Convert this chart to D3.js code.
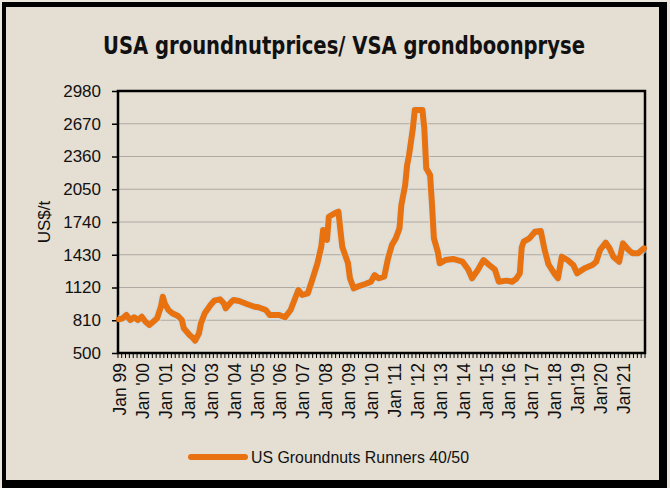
<!DOCTYPE html>
<html><head><meta charset="utf-8">
<script src="https://cdn.jsdelivr.net/npm/d3@7"></script>
<style>html,body{margin:0;padding:0;background:#fff}svg{display:block}</style>
</head><body>
<script>
// ---- data ----
const months = ["1999-01","1999-03","1999-05","1999-07","1999-09","1999-11","2000-01","2000-03","2000-05","2000-07","2000-09","2000-11","2000-12",
"2001-01","2001-03","2001-05","2001-08","2001-10","2001-11","2002-02","2002-04","2002-05","2002-07","2002-08","2002-10",
"2003-01","2003-03","2003-06","2003-08","2003-09","2003-12","2004-01","2004-04","2004-08","2004-12","2005-02","2005-06","2005-08",
"2006-01","2006-04","2006-07","2006-10","2006-11","2007-01","2007-04","2007-06","2007-09","2007-11","2007-12",
"2008-02","2008-03","2008-06","2008-08","2008-09","2008-10","2009-01","2009-02","2009-04","2009-06","2009-10",
"2010-01","2010-03","2010-05","2010-08","2010-10","2010-12","2011-02","2011-04","2011-05","2011-07","2011-08","2011-09","2011-11","2011-12",
"2012-04","2012-05","2012-06","2012-08","2012-09","2012-10","2012-12","2013-01","2013-04","2013-08","2014-01","2014-04","2014-06","2014-09","2014-12",
"2015-03","2015-06","2015-08","2015-12","2016-03","2016-05","2016-07","2016-08","2016-09","2016-12","2017-03","2017-06","2017-08","2017-10",
"2018-01","2018-03","2018-05","2018-08","2018-11","2019-01","2019-05","2019-09","2019-11","2020-01","2020-04","2020-06","2020-08","2020-11",
"2021-01","2021-04","2021-06","2021-09","2021-12"];
const values = [819,828,860,812,838,812,843,796,765,796,828,938,1033,
970,907,876,850,812,734,670,639,616,686,781,876,
954,995,1008,970,923,986,1002,992,964,938,933,907,860,
860,838,907,1049,1096,1049,1065,1175,1349,1506,1664,
1570,1790,1822,1838,1664,1506,1349,1207,1112,1128,1153,
1175,1238,1207,1222,1396,1522,1585,1680,1901,2090,2280,2374,2627,2800,
2800,2627,2248,2185,1901,1585,1459,1349,1380,1390,1364,1290,1207,1286,1380,
1333,1290,1175,1185,1175,1200,1254,1500,1554,1585,1648,1655,1475,1340,
1254,1207,1412,1380,1333,1254,1302,1333,1364,1475,1544,1491,1412,1364,
1538,1475,1444,1444,1491];
const yTicks = [500,810,1120,1430,1740,2050,2360,2670,2980];
const labelYears = [1999,2000,2001,2002,2003,2004,2005,2006,2007,2008,2009,2010,2011,2012,2013,2014,2015,2016,2017,2018,2019,2020,2021];
const xTickLabels = ["Jan 99","Jan '00","Jan '01","Jan '02","Jan '03","Jan '04","Jan '05","Jan '06","Jan '07","Jan '08","Jan '09","Jan '10","Jan '11","Jan '12","Jan '13","Jan '14","Jan '15","Jan '16","Jan '17","Jan '18","Jan'19","Jan'20","Jan'21"];
const title = "USA groundnutprices/ VSA grondboonpryse";
const yTitle = "US$/t";
const seriesName = "US Groundnuts Runners 40/50";

// ---- layout ----
const W = 670, H = 488;
const plot = {l:118, t:91, r:645, b:353};
const bg = "#e4ded3", orange = "#e8720f";

const svg = d3.select("body").append("svg").attr("width", W).attr("height", H);
svg.append("rect").attr("width", W).attr("height", H).attr("fill", "#ebe7df");
svg.append("rect").attr("x", 2).attr("y", 2).attr("width", 665).attr("height", 486).attr("fill", "#000");
svg.append("rect").attr("x", 6).attr("y", 7).attr("width", 653).attr("height", 473).attr("fill", bg);

const parse = d3.timeParse("%Y-%m-%d");
const data = months.map((m, i) => ({d: parse(m + "-15"), v: values[i]}));

const x = d3.scaleTime().domain([new Date(1999,0,1), new Date(2022,0,1)]).range([plot.l, plot.r]);
const y = d3.scaleLinear().domain([500, 2980]).range([plot.b, plot.t]);

// gridlines
svg.append("g").selectAll("line").data(yTicks.slice(1, -1)).join("line")
  .attr("x1", plot.l).attr("x2", plot.r).attr("y1", d => y(d)).attr("y2", d => y(d))
  .attr("stroke", "#aeaaa3").attr("stroke-width", 1);

// y axis
const yAxis = svg.append("g").attr("transform", `translate(${plot.l},0)`)
  .call(d3.axisLeft(y).tickValues(yTicks).tickSize(6).tickPadding(11).tickFormat(d3.format("d")));
yAxis.select(".domain").remove();
yAxis.selectAll("line").attr("stroke", "#000").attr("stroke-width", 1.5);
yAxis.selectAll("text").attr("font-family", "Liberation Sans, Arial, sans-serif").attr("font-size", 17).attr("fill", "#111");

// x axis: minor ticks every two months
const minor = d3.timeMonth.every(2).range(new Date(1999,0,1), new Date(2022,0,2));
svg.append("g").selectAll("line").data(minor).join("line")
  .attr("x1", d => x(d)).attr("x2", d => x(d)).attr("y1", plot.b).attr("y2", plot.b + 5)
  .attr("stroke", "#000").attr("stroke-width", 1);
svg.append("g").selectAll("text").data(labelYears).join("text")
  .attr("transform", (d) => `translate(${x(new Date(d,0,15)) + 1},${plot.b + 10}) rotate(-90)`)
  .attr("text-anchor", "end").attr("dy", "0.35em")
  .attr("font-family", "Liberation Sans, Arial, sans-serif").attr("font-size", 17.5).attr("fill", "#111")
  .text((d, i) => xTickLabels[i]);

// frame
svg.append("rect").attr("x", plot.l).attr("y", plot.t).attr("width", plot.r - plot.l).attr("height", plot.b - plot.t)
  .attr("fill", "none").attr("stroke", "#000").attr("stroke-width", 2.5);

// line
const line = d3.line().x(d => x(d.d)).y(d => y(d.v));
svg.append("path").datum(data).attr("d", line).attr("fill", "none")
  .attr("stroke", "#cfdde8").attr("stroke-opacity", 0.6).attr("stroke-width", 9).attr("stroke-linejoin", "round");
svg.append("path").datum(data).attr("d", line).attr("fill", "none")
  .attr("stroke", orange).attr("stroke-width", 6).attr("stroke-linejoin", "round").attr("stroke-linecap", "round");

// title
svg.append("text").attr("x", 344).attr("y", 54).attr("text-anchor", "middle")
  .attr("font-family", "Liberation Sans Narrow, DejaVu Sans Condensed, Arial, sans-serif").attr("font-weight", "bold")
  .attr("font-size", 24).attr("fill", "#111").attr("textLength", 482).attr("lengthAdjust", "spacingAndGlyphs").text(title);

// y title
svg.append("text").attr("transform", `translate(50,${(plot.t + plot.b)/2}) rotate(-90)`).attr("text-anchor", "middle")
  .attr("font-family", "Liberation Sans, Arial, sans-serif").attr("font-size", 17).attr("fill", "#111").text(yTitle);

// legend
svg.append("line").attr("x1", 191).attr("x2", 245).attr("y1", 457).attr("y2", 457)
  .attr("stroke", orange).attr("stroke-width", 6).attr("stroke-linecap", "round");
svg.append("text").attr("x", 251).attr("y", 457).attr("dy", "0.35em")
  .attr("font-family", "Liberation Sans, Arial, sans-serif").attr("font-size", 16.5).attr("fill", "#111")
  .attr("textLength", 218).attr("lengthAdjust", "spacingAndGlyphs").text(seriesName);
</script>
</body></html>
